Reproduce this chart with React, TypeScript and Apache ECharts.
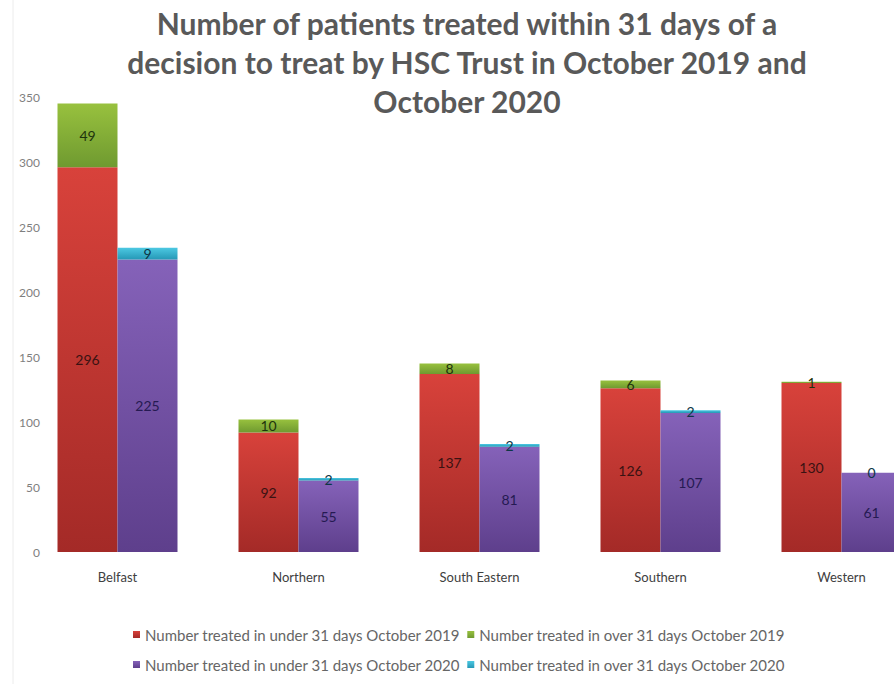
import React, { useEffect, useRef } from "react";
import * as echarts from "echarts";

const categories = ["Belfast", "Northern", "South Eastern", "Southern", "Western"];
const under2019 = [296, 92, 137, 126, 130];
const over2019 = [49, 10, 8, 6, 1];
const under2020 = [225, 55, 81, 107, 61];
const over2020 = [9, 2, 2, 2, 0];
const seriesNames = [
  "Number treated in under 31 days October 2019",
  "Number treated in over 31 days October 2019",
  "Number treated in under 31 days October 2020",
  "Number treated in over 31 days October 2020",
];
const yTicks = { min: 0, max: 350, interval: 50 };

const FONT = "Lato, 'Open Sans', sans-serif";

function grad(top: string, bottom: string) {
  return new echarts.graphic.LinearGradient(0, 0, 0, 1, [
    { offset: 0, color: top },
    { offset: 1, color: bottom },
  ]);
}

export default function App() {
  const ref = useRef<HTMLDivElement>(null);
  useEffect(() => {
    if (!ref.current) return;
    const chart = echarts.init(ref.current, null, { renderer: "svg" });
    const label = (color: string) => ({
      show: true,
      position: "inside" as const,
      color,
      fontSize: 14,
      fontFamily: FONT,
    });
    const legendText = { fontFamily: FONT, fontSize: 15, color: "#666666" };
    chart.setOption({
      animation: false,
      backgroundColor: "#ffffff",
      title: {
        text: "Number of patients treated within 31 days of a\ndecision to treat by HSC Trust in October 2019 and\nOctober 2020",
        left: 462,
        textAlign: "center",
        top: -2,
        textStyle: {
          fontFamily: FONT,
          fontWeight: "bold",
          fontSize: 30,
          lineHeight: 39,
          color: "#595959",
        },
      },
      graphic: [
        {
          type: "line",
          shape: { x1: 13, y1: 0, x2: 13, y2: 684 },
          style: { stroke: "#ececec", lineWidth: 1 },
        },
      ],
      legend: [
        {
          data: [seriesNames[0], seriesNames[1]],
          left: 128,
          top: 622,
          itemWidth: 7,
          itemHeight: 7,
          itemGap: 7,
          icon: "rect",
          textStyle: legendText,
        },
        {
          data: [seriesNames[2], seriesNames[3]],
          left: 128,
          top: 652,
          itemWidth: 7,
          itemHeight: 7,
          itemGap: 7,
          icon: "rect",
          textStyle: legendText,
        },
      ],
      grid: { left: 27, width: 905, top: 97, height: 455, containLabel: false },
      xAxis: {
        type: "category",
        data: categories,
        axisLine: { show: false },
        axisTick: { show: false },
        axisLabel: { margin: 18, fontFamily: FONT, fontSize: 13, color: "#404040" },
      },
      yAxis: {
        type: "value",
        min: yTicks.min,
        max: yTicks.max,
        interval: yTicks.interval,
        splitLine: { show: false },
        axisLine: { show: false },
        axisTick: { show: false },
        axisLabel: { margin: -13, fontFamily: FONT, fontSize: 12, color: "#7f7f7f" },
      },
      series: [
        {
          name: seriesNames[0],
          type: "bar",
          stack: "a",
          barWidth: 60,
          barGap: "0%",
          data: under2019,
          itemStyle: { color: grad("#D8423B", "#A42A27") },
          label: label("#3a1212"),
        },
        {
          name: seriesNames[1],
          type: "bar",
          stack: "a",
          barWidth: 60,
          barGap: "0%",
          data: over2019,
          itemStyle: { color: grad("#98C13E", "#6F9A30") },
          label: label("#1e330c"),
        },
        {
          name: seriesNames[2],
          type: "bar",
          stack: "b",
          barWidth: 60,
          barGap: "0%",
          data: under2020,
          itemStyle: { color: grad("#8562B9", "#5E3F8C") },
          label: label("#251a52"),
        },
        {
          name: seriesNames[3],
          type: "bar",
          stack: "b",
          barWidth: 60,
          barGap: "0%",
          data: over2020,
          itemStyle: { color: grad("#4CC8E2", "#2598B6") },
          label: label("#0d3646"),
        },
      ],
    });
    return () => chart.dispose();
  }, []);
  return (
    <div
      style={{
        position: "absolute",
        left: 0,
        top: 0,
        width: 894,
        height: 684,
        overflow: "hidden",
        background: "#fff",
      }}
    >
      <div ref={ref} style={{ width: 960, height: 684 }} />
    </div>
  );
}
